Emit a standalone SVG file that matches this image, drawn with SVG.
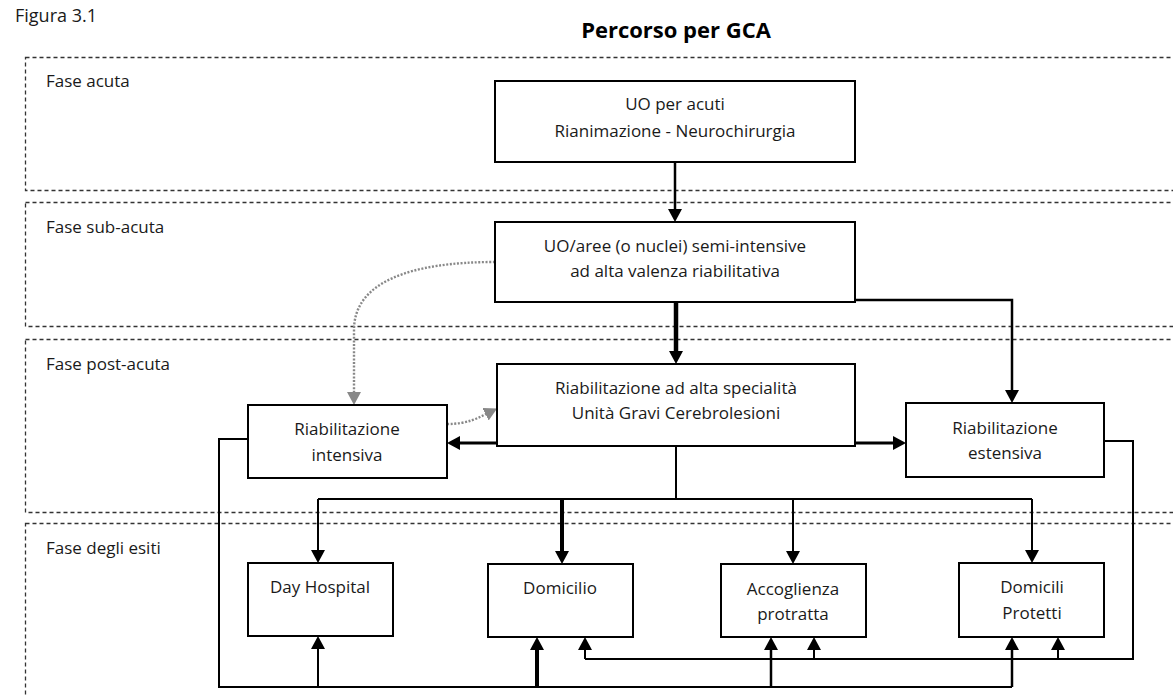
<svg xmlns="http://www.w3.org/2000/svg" width="1173" height="697" viewBox="0 0 1173 697">
<style>
text{font-family:"Open Sans","Liberation Sans",sans-serif;fill:#1a1a1a;}
.lbl{font-size:17px;}
.fig{font-size:18px;}
.nt{font-size:17px;text-anchor:middle;}
.ttl{font-size:22px;font-weight:bold;text-anchor:middle;fill:#000;}
.phase{fill:none;stroke:#333;stroke-width:1.3;stroke-dasharray:4 3;}
.box{fill:#fff;stroke:#000;stroke-width:2;}
.c{fill:none;stroke:#000;stroke-width:2;}
.a{marker-end:url(#ah);}
.dot{fill:none;stroke:#888;stroke-width:2.4;stroke-dasharray:2 1.6;marker-end:url(#ag);}
</style>
<defs>
<marker id="ah" markerUnits="userSpaceOnUse" markerWidth="13" markerHeight="14" viewBox="0 0 13 14" refX="5" refY="7" orient="auto"><path d="M0,0 L13,7 L0,14 z" fill="#000"/></marker>
<marker id="ag" markerUnits="userSpaceOnUse" markerWidth="13" markerHeight="14" viewBox="0 0 13 14" refX="5" refY="7" orient="auto"><path d="M0,0 L13,7 L0,14 z" fill="#888"/></marker>
</defs>
<rect width="1173" height="697" fill="#fff"/>
<text x="15" y="22" class="fig">Figura 3.1</text>
<text x="676" y="38" class="ttl">Percorso per GCA</text>
<g id="phases">
<rect class="phase" x="25.5" y="57.5" width="1170" height="133"/>
<rect class="phase" x="25.5" y="202.5" width="1170" height="124"/>
<rect class="phase" x="25.5" y="339.5" width="1170" height="173"/>
<rect class="phase" x="25.5" y="523.5" width="1170" height="200"/>
<text x="46" y="87" class="lbl">Fase acuta</text>
<text x="46" y="233" class="lbl">Fase sub-acuta</text>
<text x="46" y="370" class="lbl">Fase post-acuta</text>
<text x="46" y="554" class="lbl">Fase degli esiti</text>
</g>
<g id="connectors">
<path class="c a" d="M675,162 V214" style="stroke-width:2.5"/>
<path class="c a" d="M676,302 V356" style="stroke-width:4.5"/>
<path class="c a" d="M855,300 H1012 V395" style="stroke-width:2.5"/>
<path class="c a" d="M497,443 H455" style="stroke-width:3"/>
<path class="c a" d="M855,443 H898" style="stroke-width:3"/>
<path class="c" d="M676,446 V499"/>
<path class="c" d="M318,499 H1032"/>
<path class="c a" d="M318,499 V555"/>
<path class="c a" d="M562,499 V556" style="stroke-width:4"/>
<path class="c a" d="M793,499 V556"/>
<path class="c a" d="M1032,499 V555"/>
<path class="c" d="M248,439 H219 V687 H1012"/>
<path class="c a" d="M1012,687 V645" style="stroke-width:2.5"/>
<path class="c a" d="M318,687 V644"/>
<path class="c a" d="M537,687 V645" style="stroke-width:4"/>
<path class="c a" d="M771,687 V645" style="stroke-width:2.5"/>
<path class="c" d="M1104,441 H1133 V659 H585"/>
<path class="c a" d="M585,659 V645"/>
<path class="c a" d="M814,659 V645"/>
<path class="c a" d="M1058,659 V645"/>
<path class="dot" d="M495,262 C410,262 354,282 354,330 V397"/>
<path class="dot" d="M447,424 C468,424 478,418 490,412"/>
</g>
<g id="n-acuti"><rect class="box" x="495" y="81" width="360" height="81"/><text class="nt" x="675" y="110">UO per acuti</text><text class="nt" x="675" y="137">Rianimazione - Neurochirurgia</text></g>
<g id="n-semi"><rect class="box" x="495" y="222" width="360" height="80"/><text class="nt" x="675" y="252">UO/aree (o nuclei) semi-intensive</text><text class="nt" x="675" y="277">ad alta valenza riabilitativa</text></g>
<g id="n-alta"><rect class="box" x="497" y="364" width="358" height="82"/><text class="nt" x="676" y="394">Riabilitazione ad alta specialità</text><text class="nt" x="676" y="419">Unità Gravi Cerebrolesioni</text></g>
<g id="n-intensiva"><rect class="box" x="248" y="405" width="199" height="73"/><text class="nt" x="347" y="435">Riabilitazione</text><text class="nt" x="347" y="461">intensiva</text></g>
<g id="n-estensiva"><rect class="box" x="906" y="403" width="198" height="74"/><text class="nt" x="1005" y="434">Riabilitazione</text><text class="nt" x="1005" y="459">estensiva</text></g>
<g id="n-dh"><rect class="box" x="248" y="563" width="145" height="73"/><text class="nt" x="320" y="593">Day Hospital</text></g>
<g id="n-dom"><rect class="box" x="488" y="564" width="145" height="73"/><text class="nt" x="560" y="594">Domicilio</text></g>
<g id="n-acc"><rect class="box" x="721" y="564" width="145" height="73"/><text class="nt" x="793" y="595">Accoglienza</text><text class="nt" x="793" y="620">protratta</text></g>
<g id="n-prot"><rect class="box" x="959" y="563" width="145" height="74"/><text class="nt" x="1032" y="593">Domicili</text><text class="nt" x="1032" y="619">Protetti</text></g>
</svg>
